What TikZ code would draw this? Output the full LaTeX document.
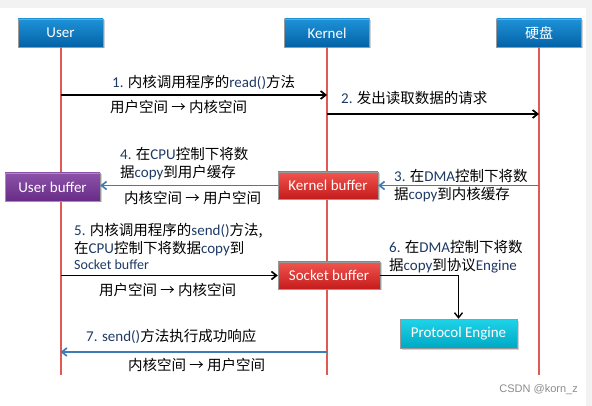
\documentclass[tikz,border=0pt]{standalone}
\usepackage{fontspec}
\setmainfont{Noto Sans CJK SC}
\newfontfamily\lat{Carlito}
\newfontfamily\wm{Liberation Sans}
\usetikzlibrary{arrows.meta,shadows}

\definecolor{lifered}{HTML}{E05A55}
\definecolor{msgblue}{HTML}{3E7CB8}
\definecolor{txtnavy}{HTML}{1F3A66}
\newcommand{\en}[1]{{\lat\fontsize{15}{18}\selectfont\color{txtnavy}#1}}

\begin{document}
\begin{tikzpicture}[x = 1pt, y = -1pt, > = {Straight Barb[length=5pt,width=8pt]},
	box/.style = {draw = black!40, line width = 0.4pt, text = white, font = \lat\fontsize{15}{15}\selectfont,
		inner sep = 0pt, drop shadow = {opacity = 0.35, shadow xshift = 1.5pt, shadow yshift = -1.5pt}},
	head/.style = {box, top color = {rgb,255:red,30;green,146;blue,216}, bottom color = {rgb,255:red,4;green,98;blue,166},
		minimum width = 85pt, minimum height = 28pt},
	redbuf/.style = {box, top color = {rgb,255:red,242;green,84;blue,78}, bottom color = {rgb,255:red,196;green,28;blue,28},
		minimum height = 27pt},
	lifeline/.style = {lifered, line width = 2pt},
	msg/.style = {->, line width = 1.7pt},
	ret/.style = {->, msgblue, line width = 1.7pt},
	lbl/.style = {anchor = west, inner sep = 0pt, align = left, font = \fontsize{14.5}{18}\selectfont}]

	% Background

	\fill [black!5] (0, 0) rectangle (592, 406);
	\fill [white] (0, 8) rectangle (586, 406);
	\useasboundingbox (0, 0) rectangle (592, 406);

	% Lifelines

	\def\Yend{375}	% Bottom of the lifelines

	\node [head] (user) at (60.5, 33) {User};
	\node [head] (kernel) at (327, 33) {Kernel};
	\node [head, font = \fontsize{14}{14}\selectfont] (disk) at (539, 33) {硬盘};

	\foreach \L in {user, kernel, disk}
	{
		\coordinate (\L End) at (\L.south |- 0, \Yend);
		\draw [lifeline] (\L.south) -- (\L End);
	}

	% Buffers

	\node [box, top color = {rgb,255:red,140;green,82;blue,168}, bottom color = {rgb,255:red,104;green,44;blue,136},
		minimum width = 95pt, minimum height = 28pt] (userbuf) at (52.5, 187) {User buffer};
	\node [redbuf, minimum width = 100pt] (kernbuf) at (328, 185.5) {Kernel buffer};
	\node [redbuf, minimum width = 102pt] (sockbuf) at (329, 275.5) {Socket buffer};
	\node [box, top color = {rgb,255:red,30;green,212;blue,232}, bottom color = {rgb,255:red,0;green,168;blue,196},
		minimum width = 117pt, minimum height = 29pt] (proto) at (458.5, 333.5) {Protocol Engine};

	% Messages

	\draw [msg] (user |- 0, 95) -- (kernel |- 0, 95);
	\draw [msg] (kernel |- 0, 114) -- (disk |- 0, 114);
	\draw [ret] (disk |- kernbuf.east) -- (kernbuf.east);
	\draw [ret] (kernbuf.west) -- (userbuf.east |- kernbuf.west);
	\draw [msg] (user |- sockbuf.west) -- (sockbuf.west);
	\draw [msg, line width = 1.4pt] (sockbuf.east) -| (proto.north);
	\draw [ret] (kernel |- 0, 352) -- (user |- 0, 352);

	% Labels

	\node [lbl] (t1) at (112, 82) {\en{1.} 内核调用程序的\en{read()}方法};
	\node [lbl] (s1) at (110, 107) {用户空间 → 内核空间};
	\node [lbl] (t2) at (341, 98) {\en{2.} 发出读取数据的请求};
	\node [lbl] (t3) at (394, 186) {\en{3.} 在\en{DMA}控制下将数\\据\en{copy}到内核缓存};
	\node [lbl] (t4) at (120, 164) {\en{4.} 在\en{CPU}控制下将数\\据\en{copy}到用户缓存};
	\node [lbl] (s4) at (124, 198) {内核空间 → 用户空间};
	\node [lbl] (t5) at (74, 246) {\en{5.} 内核调用程序的\en{send()}方法,\\在\en{CPU}控制下将数据\en{copy}到\\[-2pt]{\en{\fontsize{14}{14}\selectfont Socket buffer}}};
	\node [lbl] (t6) at (389, 257) {\en{6.} 在\en{DMA}控制下将数\\据\en{copy}到协议\en{Engine}};
	\node [lbl] (s5) at (99, 290) {用户空间 → 内核空间};
	\node [lbl] (t7) at (86, 336) {\en{7. send()}方法执行成功响应};
	\node [lbl] (s7) at (128, 365) {内核空间 → 用户空间};

	% Watermark

	\node [anchor = east, inner sep = 0pt, black!45, font = \wm\fontsize{11}{11}\selectfont] (mark) at (578, 390) {CSDN @korn\_z};

\end{tikzpicture}
\end{document}
